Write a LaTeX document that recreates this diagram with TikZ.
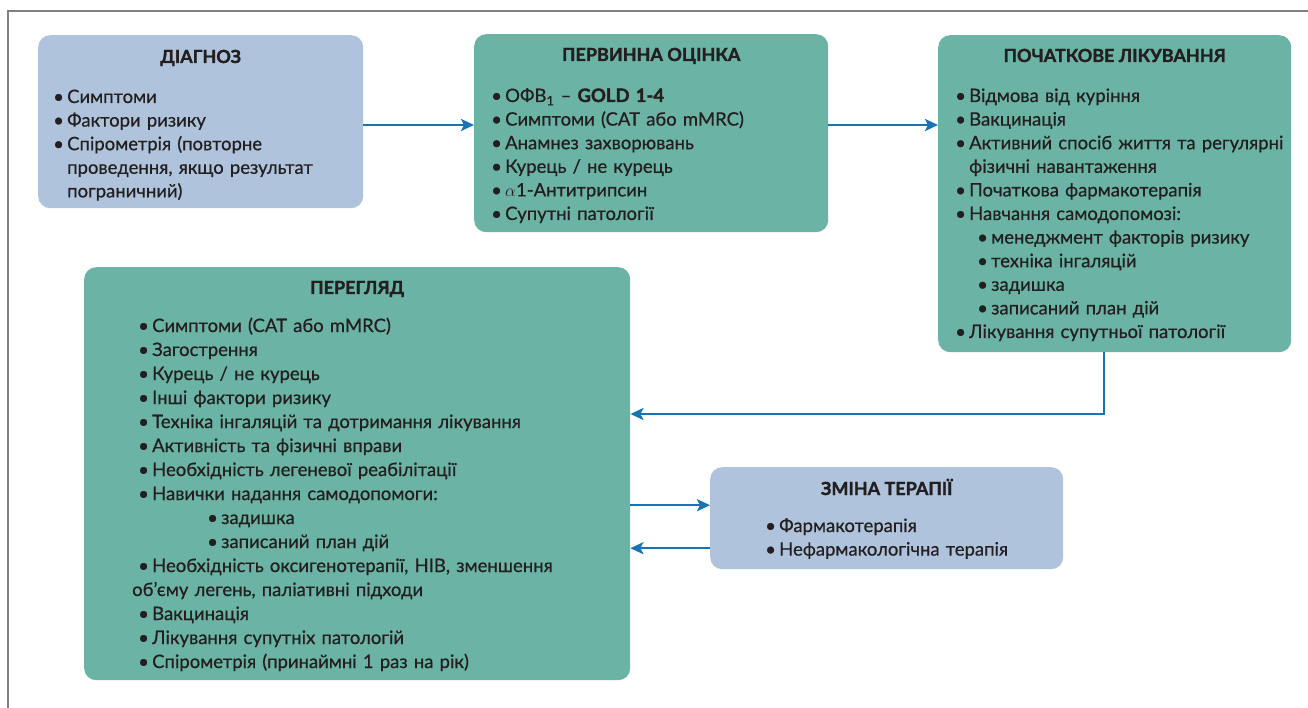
\documentclass[tikz,border=0pt]{standalone}
\usepackage{fontspec}
\setmainfont{Lato}[FakeBold=0.6, BoldFeatures={FakeBold=1.6}]
\usetikzlibrary{positioning,arrows.meta}

\definecolor{boxgreen}{RGB}{107,179,164}
\definecolor{boxblue}{RGB}{175,196,220}
\definecolor{arrowblue}{RGB}{22,117,178}
\definecolor{framegray}{RGB}{128,128,128}
\definecolor{textdark}{RGB}{35,31,32}

\newcommand{\bul}[1][0pt]{\hspace*{#1}\makebox[14pt][l]{•}}

\tikzset{
  box/.style={rounded corners=12pt, inner sep=0pt, anchor=north west},
  greenbox/.style={box, fill=boxgreen},
  bluebox/.style={box, fill=boxblue},
  boxtitle/.style={anchor=base, inner sep=0pt, text=textdark,
    font=\fontsize{18}{22}\selectfont\bfseries},
  boxlist/.style={anchor=base west, inner sep=0pt, align=left, text=textdark,
    font=\fontsize{18.5}{23.6}\selectfont},
  arr/.style={draw=arrowblue, line width=2.4pt,
    -{Stealth[length=13pt, width=12pt, inset=3pt]}}
}

\begin{document}
\begin{tikzpicture}[x=1pt, y=1pt]
\useasboundingbox (0,0) rectangle (1308,-708);
\draw[framegray, line width=1.5pt] (8,-708) -- (8,-11) -- (1308,-11);

% boxes
\node[bluebox, minimum width=325pt, minimum height=173pt] (diagnoz) at (38,-35) {};
\node[greenbox, minimum width=354pt, minimum height=198pt] (ocinka) at (474,-34) {};
\node[greenbox, minimum width=353pt, minimum height=317pt] (pochatok) at (938,-35) {};
\node[greenbox, minimum width=546pt, minimum height=413pt] (pereglyad) at (84,-267) {};
\node[bluebox, minimum width=353pt, minimum height=102pt] (zmina) at (710,-467) {};

% titles
\node[boxtitle] (diagnozT) at ([yshift=-28pt]diagnoz.north) {ДІАГНОЗ};
\node[boxtitle] (ocinkaT) at ([yshift=-27pt]ocinka.north) {ПЕРВИННА ОЦІНКА};
\node[boxtitle] (pochatokT) at ([yshift=-27pt]pochatok.north) {ПОЧАТКОВЕ ЛІКУВАННЯ};
\node[boxtitle] (pereglyadT) at ([yshift=-27pt]pereglyad.north) {ПЕРЕГЛЯД};
\node[boxtitle] (zminaT) at ([yshift=-28pt]zmina.north) {ЗМІНА ТЕРАПІЇ};

% lists
\node[boxlist, text width=300pt] (diagnozL) at ([xshift=15pt, yshift=-68pt]diagnoz.north west) {%
  \bul Симптоми\\
  \bul Фактори ризику\\
  \bul Спірометрія (повторне\\
  \hspace*{14pt}проведення, якщо результат\\
  \hspace*{14pt}пограничний)};
\node[boxlist, text width=330pt] (ocinkaL) at ([xshift=17pt, yshift=-68pt]ocinka.north west) {%
  \bul ОФВ\textsubscript{1} -- \textbf{GOLD 1-4}\\
  \bul Симптоми (CAT або mMRC)\\
  \bul Анамнез захворювань\\
  \bul Курець / не курець\\
  \bul $\alpha$1-Антитрипсин\\
  \bul Супутні патології};
\node[boxlist, text width=330pt] (pochatokL) at ([xshift=17pt, yshift=-67pt]pochatok.north west) {%
  \bul Відмова від куріння\\
  \bul Вакцинація\\
  \bul Активний спосіб життя та регулярні\\
  \hspace*{14pt}фізичні навантаження\\
  \bul Початкова фармакотерапія\\
  \bul Навчання самодопомозі:\\
  \bul[22pt]менеджмент факторів ризику\\
  \bul[22pt]техніка інгаляцій\\
  \bul[22pt]задишка\\
  \bul[22pt]записаний план дій\\
  \bul Лікування супутньої патології};
\node[boxlist, text width=480pt, font=\fontsize{18.5}{24}\selectfont] (pereglyadL) at ([xshift=48pt, yshift=-65pt]pereglyad.north west) {%
  \bul[6pt]Симптоми (CAT або mMRC)\\
  \bul[6pt]Загострення\\
  \bul[6pt]Курець / не курець\\
  \bul[6pt]Інші фактори ризику\\
  \bul[6pt]Техніка інгаляцій та дотримання лікування\\
  \bul[6pt]Активність та фізичні вправи\\
  \bul[6pt]Необхідність легеневої реабілітації\\
  \bul[6pt]Навички надання самодопомоги:\\
  \bul[75pt]задишка\\
  \bul[75pt]записаний план дій\\
  \bul[6pt]Необхідність оксигенотерапії, НІВ, зменшення\\
  об’єму легень, паліативні підходи\\
  \bul[6pt]Вакцинація\\
  \bul[6pt]Лікування супутніх патологій\\
  \bul[6pt]Спірометрія (принаймні 1 раз на рік)};
\node[boxlist, text width=280pt] (zminaL) at ([xshift=55pt, yshift=-65pt]zmina.north west) {%
  \bul Фармакотерапія\\
  \bul Нефармакологічна терапія};

% connectors
\coordinate (ryad) at (0,-125);
\coordinate (zlam) at (1104,-414);
\draw[arr] (diagnoz.east |- ryad) -- (ocinka.west |- ryad);
\draw[arr] (ocinka.east |- ryad) -- (pochatok.west |- ryad);
\draw[arr] (pochatok.south -| zlam) -- (zlam) -- (pereglyad.east |- zlam);
\draw[arr] ([yshift=13pt]zmina.west -| pereglyad.east) -- ([yshift=13pt]zmina.west);
\draw[arr] ([yshift=-30pt]zmina.west) -- ([yshift=-30pt]zmina.west -| pereglyad.east);
\end{tikzpicture}
\end{document}
